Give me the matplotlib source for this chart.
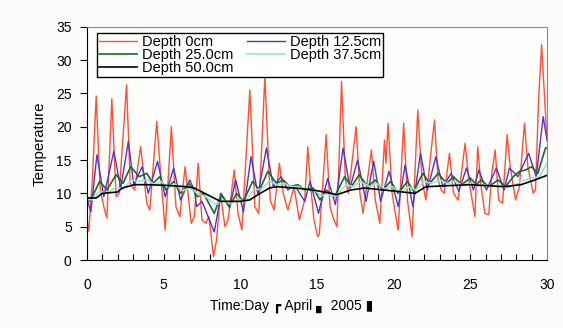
import matplotlib.pyplot as plt
from matplotlib.ticker import MultipleLocator

plt.rcParams['font.family'] = ['Liberation Sans', 'DejaVu Sans']

# turning points (day, temperature)
t_0cm = [0.0, 0.12, 0.35, 0.6, 0.85, 1.0, 1.15, 1.3, 1.62, 1.9, 2.1, 2.58, 2.82, 3.1, 3.5, 3.9, 4.1,
         4.55, 4.8, 5.1, 5.5, 5.8, 6.05, 6.4, 6.8, 7.0, 7.25, 7.5, 7.75, 7.95, 8.25, 8.45, 8.7, 9.0,
         9.2, 9.6, 9.85, 10.1, 10.62, 10.95, 11.2, 11.6, 11.95, 12.2, 12.55, 12.8, 13.1, 13.5, 13.85,
         14.2, 14.4, 14.55, 14.8, 15.05, 15.15, 15.6, 15.85, 16.1, 16.3, 16.6, 16.85, 17.05, 17.55,
         17.8, 18.0, 18.55, 18.8, 19.1, 19.4, 19.5, 19.63, 19.9, 20.25, 20.3, 20.55, 20.65, 20.9,
         21.2, 21.57, 21.85, 22.1, 22.66, 22.9, 23.1, 23.3, 23.64, 23.9, 24.2, 24.66, 24.9, 25.3,
         25.48, 25.7, 25.95, 26.2, 26.4, 26.62, 26.85, 27.1, 27.4, 27.6, 27.95, 28.2, 28.53, 28.75,
         29.1, 29.25, 29.45, 29.65, 29.8, 30.0]
v_0cm = [6.0, 4.3, 12, 24.6, 11, 9, 7.5, 6.3, 24.2, 9.5, 10, 26.3, 11.5, 10.5, 17, 8.5, 7.5,
         20.8, 13, 4.5, 20, 8, 6.5, 14, 5.5, 6.5, 14.5, 6, 5.5, 6.5, 0.5, 3, 10, 5,
         6, 13.5, 7, 4.5, 25.5, 8, 7, 27.5, 9, 7.5, 14.5, 10, 7.5, 11, 6,
         9, 17, 12, 6, 3.5, 3.8, 18.8, 8, 6, 5, 26.8, 12, 10, 20,
         10, 7, 16.5, 9, 5.5, 18, 14.5, 20.5, 10, 5, 4.5, 16, 20.5, 9,
         3.5, 22.5, 12, 9, 21, 12, 10.5, 10, 16, 10, 9, 17.5, 12, 6.5,
         17, 11, 7, 6.8, 13, 16.5, 9, 8.5, 18.8, 14, 9, 11, 20.5, 14,
         10, 10.5, 24, 32.3, 26, 18]

t_12cm = [0.0, 0.25, 0.65, 1.1, 1.75, 2.2, 2.7, 3.05, 3.6, 4.0, 4.6, 5.1, 5.65, 6.1, 6.7, 7.0, 7.15,
          7.5, 8.3, 8.75, 9.3, 9.7, 10.2, 10.7, 11.15, 11.7, 12.15, 12.65, 13.1, 13.55, 14.2, 14.55,
          15.1, 15.2, 15.7, 16.2, 16.7, 17.15, 17.65, 18.2, 18.7, 19.15, 19.7, 20.3, 20.75, 21.25,
          21.75, 22.2, 22.75, 23.2, 23.75, 24.25, 24.75, 25.2, 25.55, 26.05, 26.7, 27.2, 27.55, 28.1,
          28.8, 29.3, 29.75, 30.0]
v_12cm = [9.3, 7.2, 15.8, 9.5, 16.3, 10.8, 17.8, 11.3, 14, 10, 14.8, 9.5, 13.8, 9, 12, 10.5, 8.0,
          8.8, 4.2, 10, 7.8, 12, 7.2, 15.5, 9.8, 16.8, 11, 12.5, 10.5, 11.2, 8.8, 11.8,
          7, 8, 12.2, 8.3, 16.8, 10.8, 15, 8.8, 14.8, 8.8, 13.3, 8, 14.3, 8,
          16, 10.5, 15.5, 11, 13, 10.3, 13.8, 10.5, 13.5, 10.5, 13.8, 10.5, 13.8, 12.5,
          16, 12.5, 21.5, 18]

t_25cm = [0.0, 0.2, 0.83, 1.3, 1.9, 2.35, 2.85, 3.4, 3.9, 4.3, 4.75, 5.15, 5.65, 6.1, 6.65, 7.2, 7.6,
          8.3, 8.75, 9.3, 9.75, 10.2, 10.8, 11.25, 11.8, 12.35, 12.8, 13.25, 13.75, 14.2, 14.75,
          15.2, 15.6, 16.15, 16.8, 17.25, 17.75, 18.3, 18.8, 19.3, 19.8, 20.3, 20.9, 21.3, 21.9,
          22.35, 22.9, 23.45, 23.9, 24.45, 25.0, 25.4, 25.7, 26.2, 26.8, 27.3, 27.8, 28.2, 28.6,
          29.0, 29.4, 29.9, 30.0]
v_25cm = [9.6, 8.8, 11.8, 10.5, 12.8, 11.5, 14, 12.5, 13, 11.5, 12.5, 10.5, 11.8, 10, 11.5, 9.5, 10,
          7, 9.8, 8, 10, 8.8, 11.8, 10.5, 13.3, 11.5, 12, 11, 11.3, 10.5, 10.8,
          9, 10.5, 9.5, 12.5, 11, 12.8, 11, 12, 10.5, 11.8, 10, 11.8, 10.3, 13,
          11.5, 13, 11.5, 12.5, 11.3, 12.3, 11.3, 12, 11, 12, 11, 12.5, 13.3, 13.5,
          14, 13, 16.8, 16.8]

t_37cm = [0.0, 0.3, 0.8, 1.3, 1.9, 2.35, 2.9, 3.4, 3.95, 4.4, 4.85, 5.2, 5.75, 6.2, 6.75, 7.3, 7.7,
          8.4, 8.85, 9.4, 9.85, 10.3, 10.9, 11.35, 11.9, 12.4, 12.9, 13.3, 13.8, 14.3, 14.8, 15.3,
          15.7, 16.2, 16.9, 17.35, 17.85, 18.4, 18.9, 19.4, 19.9, 20.4, 21.0, 21.4, 22.0, 22.45,
          23.0, 23.5, 24.0, 24.5, 25.1, 25.5, 25.8, 26.3, 26.9, 27.4, 27.9, 28.3, 29.0, 29.5, 30.0]
v_37cm = [9.2, 9.0, 10.3, 10.0, 11.0, 10.6, 12.0, 11.8, 12.0, 11.3, 11.8, 11.0, 11.4, 10.4, 10.8, 9.8, 9.6,
          8.3, 9.0, 8.4, 9.2, 8.7, 10.6, 10.6, 11.8, 11.3, 11.5, 11.0, 11.0, 10.5, 10.5, 9.6,
          10.0, 9.5, 11.3, 11.0, 11.8, 11.0, 11.5, 10.7, 11.0, 10.2, 11.0, 10.5, 11.8, 11.5,
          12.0, 11.5, 11.8, 11.2, 11.6, 11.0, 11.4, 11.0, 11.2, 10.8, 11.2, 11.8, 12.3, 12.5, 14.5]

t_50cm = [0.0, 0.6, 1.0, 2.0, 2.3, 3.1, 4.0, 5.1, 6.5, 7.0, 8.1, 8.7, 10.0, 10.6, 11.3, 11.9, 12.4,
          14.0, 15.0, 15.9, 16.3, 17.2, 18.1, 20.2, 21.4, 22.1, 25.0, 27.2, 28.3, 29.2, 30.0]
v_50cm = [9.3, 9.3, 10.0, 10.2, 10.8, 11.3, 11.3, 11.2, 11.0, 10.8, 9.5, 8.8, 8.8, 9.0, 10.0, 10.8, 11.0,
          10.7, 10.4, 10.0, 9.8, 10.5, 10.8, 10.3, 10.0, 11.0, 11.3, 11.0, 11.3, 12.0, 12.7]

fig = plt.figure(figsize=(5.63, 3.28), dpi=100, facecolor='#fbfbf9')
ax = fig.add_axes([0.1545, 0.2073, 0.8171, 0.7113], facecolor='#fdfdfc')

ax.plot(t_0cm, v_0cm, color='#ff4f35', lw=1.0, label='Depth 0cm')
ax.plot(t_12cm, v_12cm, color='#4f35c8', lw=1.0, label='Depth 12.5cm')
ax.plot(t_25cm, v_25cm, color='#1e6b24', lw=1.2, label='Depth 25.0cm')
ax.plot(t_37cm, v_37cm, color='#9fe0d2', lw=1.2, label='Depth 37.5cm')
ax.plot(t_50cm, v_50cm, color='black', lw=1.2, label='Depth 50.0cm')

ax.set_xlim(0, 30)
ax.set_ylim(0, 35)
ax.xaxis.set_major_locator(MultipleLocator(5))
ax.xaxis.set_minor_locator(MultipleLocator(1))
ax.yaxis.set_major_locator(MultipleLocator(5))
ax.tick_params(axis='x', which='both', direction='in', length=4, width=0.8, labelsize=10, pad=13)
ax.tick_params(axis='y', direction='out', length=5, width=0.8, labelsize=10, pad=6)

for side in ('top', 'right'):
    ax.spines[side].set_color('#8a8a8a')
for side in ('left', 'bottom'):
    ax.spines[side].set_color('black')

ax.set_ylabel('Temperature', fontsize=10.8, labelpad=7)
fig.text(210 / 563, 1 - 306 / 328, 'Time:Day \u250f April \u2596 2005 \u25ae',
         fontsize=10, ha='left', va='center')

h, l = ax.get_legend_handles_labels()
order = [0, 2, 4, 1, 3]
leg = ax.legend([h[i] for i in order], [l[i] for i in order], ncol=2, loc='upper left',
                bbox_to_anchor=(0.022, 0.975), fontsize=10.5, frameon=True, fancybox=False,
                edgecolor='black', framealpha=1, borderpad=0.15, labelspacing=-0.05,
                handlelength=2.6, handletextpad=0.35, columnspacing=0.9, borderaxespad=0)
leg.get_frame().set_linewidth(1.0)

fig.savefig('out.png', dpi=100, facecolor=fig.get_facecolor())
